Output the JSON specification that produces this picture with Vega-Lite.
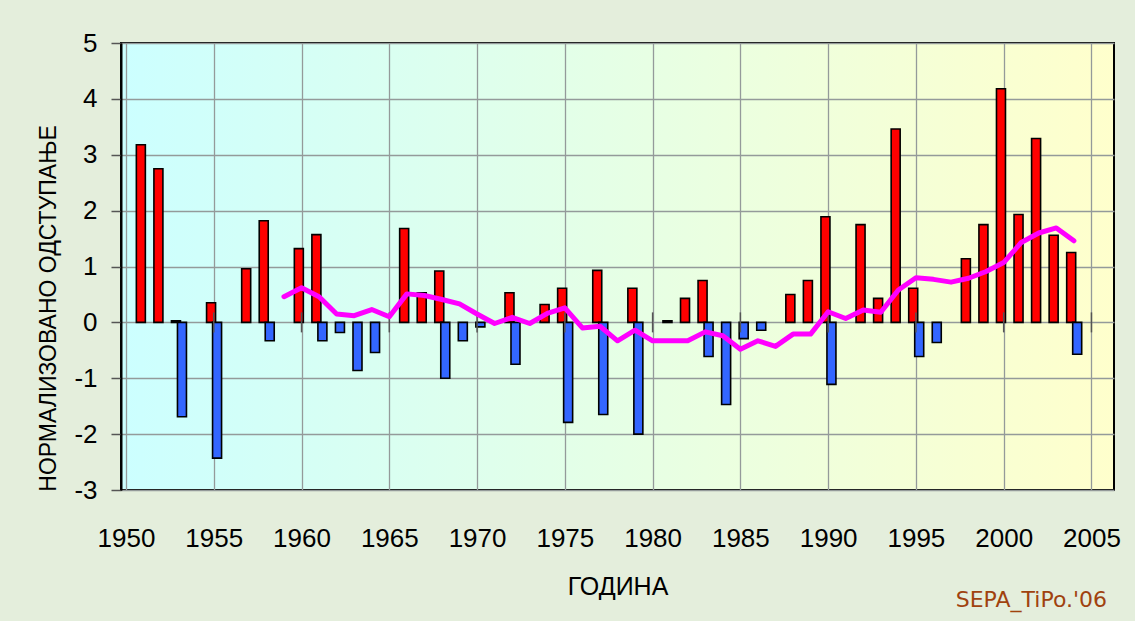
{
  "$schema": "https://vega.github.io/schema/vega-lite/v6.json",
  "width": 993,
  "height": 447,
  "autosize": {"type": "none"},
  "padding": {"left": 121, "top": 43, "right": 21, "bottom": 131},
  "background": "#E4EEDC",
  "title": {
    "text": "SEPA_TiPo.'06",
    "orient": "bottom",
    "anchor": "end",
    "frame": "group",
    "font": "DejaVu Sans",
    "fontSize": 22,
    "fontWeight": "normal",
    "color": "#A0420F",
    "dx": -7,
    "dy": -9,
    "offset": 0
  },
  "config": {
    "view": {
      "fill": {"gradient": "linear", "x1": 0, "y1": 0, "x2": 1, "y2": 0,
        "stops": [{"offset": 0, "color": "#CCFFFF"}, {"offset": 1, "color": "#FFFFCC"}]},
      "stroke": "#000000",
      "strokeWidth": 2
    },
    "axis": {"labelFont": "Liberation Sans", "titleFont": "Liberation Sans", "labelColor": "#000000", "titleColor": "#000000", "titleFontWeight": "normal", "gridColor": "#949A9A", "gridWidth": 1.3, "gridOpacity": 1}
  },
  "datasets": {
    "bars": [
      {"year": 1951, "s": "A", "v": 3.18},
      {"year": 1952, "s": "A", "v": 2.75},
      {"year": 1953, "s": "A", "v": 0.03},
      {"year": 1955, "s": "A", "v": 0.35},
      {"year": 1957, "s": "A", "v": 0.96},
      {"year": 1958, "s": "A", "v": 1.82},
      {"year": 1960, "s": "A", "v": 1.32},
      {"year": 1961, "s": "A", "v": 1.57},
      {"year": 1966, "s": "A", "v": 1.68},
      {"year": 1967, "s": "A", "v": 0.53},
      {"year": 1968, "s": "A", "v": 0.92},
      {"year": 1972, "s": "A", "v": 0.53},
      {"year": 1974, "s": "A", "v": 0.32},
      {"year": 1975, "s": "A", "v": 0.61},
      {"year": 1977, "s": "A", "v": 0.93},
      {"year": 1979, "s": "A", "v": 0.61},
      {"year": 1981, "s": "A", "v": 0.03},
      {"year": 1982, "s": "A", "v": 0.43},
      {"year": 1983, "s": "A", "v": 0.75},
      {"year": 1988, "s": "A", "v": 0.5},
      {"year": 1989, "s": "A", "v": 0.75},
      {"year": 1990, "s": "A", "v": 1.89},
      {"year": 1992, "s": "A", "v": 1.75},
      {"year": 1993, "s": "A", "v": 0.43},
      {"year": 1994, "s": "A", "v": 3.46},
      {"year": 1995, "s": "A", "v": 0.61},
      {"year": 1998, "s": "A", "v": 1.14},
      {"year": 1999, "s": "A", "v": 1.75},
      {"year": 2000, "s": "A", "v": 4.18},
      {"year": 2001, "s": "A", "v": 1.93},
      {"year": 2002, "s": "A", "v": 3.29},
      {"year": 2003, "s": "A", "v": 1.56},
      {"year": 2004, "s": "A", "v": 1.25},
      {"year": 1953, "s": "B", "v": -1.69},
      {"year": 1955, "s": "B", "v": -2.43},
      {"year": 1958, "s": "B", "v": -0.33},
      {"year": 1961, "s": "B", "v": -0.33},
      {"year": 1962, "s": "B", "v": -0.18},
      {"year": 1963, "s": "B", "v": -0.86},
      {"year": 1964, "s": "B", "v": -0.54},
      {"year": 1968, "s": "B", "v": -1.0},
      {"year": 1969, "s": "B", "v": -0.33},
      {"year": 1970, "s": "B", "v": -0.08},
      {"year": 1972, "s": "B", "v": -0.75},
      {"year": 1975, "s": "B", "v": -1.79},
      {"year": 1977, "s": "B", "v": -1.65},
      {"year": 1979, "s": "B", "v": -2.0},
      {"year": 1983, "s": "B", "v": -0.61},
      {"year": 1984, "s": "B", "v": -1.47},
      {"year": 1985, "s": "B", "v": -0.29},
      {"year": 1986, "s": "B", "v": -0.14},
      {"year": 1990, "s": "B", "v": -1.11},
      {"year": 1995, "s": "B", "v": -0.61},
      {"year": 1996, "s": "B", "v": -0.36},
      {"year": 2004, "s": "B", "v": -0.57}
    ],
    "avg": [
      {"year": 1959, "m": 0.46}, {"year": 1960, "m": 0.62}, {"year": 1961, "m": 0.46},
      {"year": 1962, "m": 0.15}, {"year": 1963, "m": 0.12}, {"year": 1964, "m": 0.23},
      {"year": 1965, "m": 0.1}, {"year": 1966, "m": 0.51}, {"year": 1967, "m": 0.48},
      {"year": 1968, "m": 0.41}, {"year": 1969, "m": 0.33}, {"year": 1970, "m": 0.15},
      {"year": 1971, "m": -0.02}, {"year": 1972, "m": 0.09}, {"year": 1973, "m": -0.02},
      {"year": 1974, "m": 0.16}, {"year": 1975, "m": 0.26}, {"year": 1976, "m": -0.1},
      {"year": 1977, "m": -0.07}, {"year": 1978, "m": -0.33}, {"year": 1979, "m": -0.14},
      {"year": 1980, "m": -0.33}, {"year": 1981, "m": -0.33}, {"year": 1982, "m": -0.33},
      {"year": 1983, "m": -0.17}, {"year": 1984, "m": -0.24}, {"year": 1985, "m": -0.48},
      {"year": 1986, "m": -0.33}, {"year": 1987, "m": -0.43}, {"year": 1988, "m": -0.21},
      {"year": 1989, "m": -0.21}, {"year": 1990, "m": 0.19}, {"year": 1991, "m": 0.07},
      {"year": 1992, "m": 0.22}, {"year": 1993, "m": 0.18}, {"year": 1994, "m": 0.58},
      {"year": 1995, "m": 0.8}, {"year": 1996, "m": 0.77}, {"year": 1997, "m": 0.72},
      {"year": 1998, "m": 0.79}, {"year": 1999, "m": 0.91}, {"year": 2000, "m": 1.07},
      {"year": 2001, "m": 1.43}, {"year": 2002, "m": 1.6}, {"year": 2003, "m": 1.69},
      {"year": 2004, "m": 1.46}
    ],
    "ticks": [
      {"year": 1955}, {"year": 1960}, {"year": 1965}, {"year": 1970}, {"year": 1975},
      {"year": 1980}, {"year": 1985}, {"year": 1990}, {"year": 1995}, {"year": 2000}, {"year": 2005}
    ]
  },
  "layer": [
    {
      "data": {"name": "bars"},
      "transform": [{"filter": "datum.s === 'A'"}],
      "mark": {"type": "bar", "width": 9, "xOffset": -2.7, "fill": "#FF0000", "stroke": "#000000", "strokeWidth": 1.6},
      "encoding": {
        "x": {
          "field": "year", "type": "quantitative",
          "scale": {"domain": [1950, 2006], "nice": false, "zero": false},
          "axis": {
            "values": [1950, 1955, 1960, 1965, 1970, 1975, 1980, 1985, 1990, 1995, 2000, 2005],
            "labelExpr": "datum.value + ''", "title": "ГОДИНА", "grid": true, "ticks": false, "domain": false,
            "labelFontSize": 26, "labelPadding": 56, "labelBaseline": "alphabetic", "labelFlush": false,
            "titleFontSize": 25, "titleY": 104, "titleBaseline": "alphabetic"
          }
        },
        "y": {
          "field": "v", "type": "quantitative",
          "scale": {"domain": [-3, 5], "nice": false},
          "axis": {
            "values": [-3, -2, -1, 0, 1, 2, 3, 4, 5],
            "labelExpr": "datum.value + ''",
            "title": "НОРМАЛИЗОВАНО ОДСТУПАЊЕ", "grid": true,
            "tickSize": 10, "tickColor": "#555555", "tickWidth": 1.5,
            "domainColor": "#000000", "domainWidth": 2,
            "labelFontSize": 26, "labelPadding": 14, "labelFlush": false,
            "titleFontSize": 23, "titleX": -73, "titleY": 265, "titleAngle": -90,
            "titleAlign": "center", "titleBaseline": "middle"
          }
        }
      }
    },
    {
      "data": {"name": "bars"},
      "transform": [{"filter": "datum.s === 'B'"}],
      "mark": {"type": "bar", "width": 9, "xOffset": 3.3, "fill": "#3366FF", "stroke": "#000000", "strokeWidth": 1.6},
      "encoding": {
        "x": {"field": "year", "type": "quantitative"},
        "y": {"field": "v", "type": "quantitative"}
      }
    },
    {
      "mark": {"type": "rule", "color": "#000000", "strokeWidth": 1.5},
      "encoding": {"y": {"datum": 0}}
    },
    {
      "data": {"name": "ticks"},
      "mark": {"type": "tick", "orient": "vertical", "size": 20, "thickness": 1.5, "color": "#555555", "opacity": 1},
      "encoding": {
        "x": {"field": "year", "type": "quantitative"},
        "y": {"datum": 0}
      }
    },
    {
      "data": {"name": "avg"},
      "mark": {"type": "line", "color": "#FF00FF", "strokeWidth": 5, "strokeCap": "round", "strokeJoin": "round"},
      "encoding": {
        "x": {"field": "year", "type": "quantitative"},
        "y": {"field": "m", "type": "quantitative"}
      }
    }
  ]
}
